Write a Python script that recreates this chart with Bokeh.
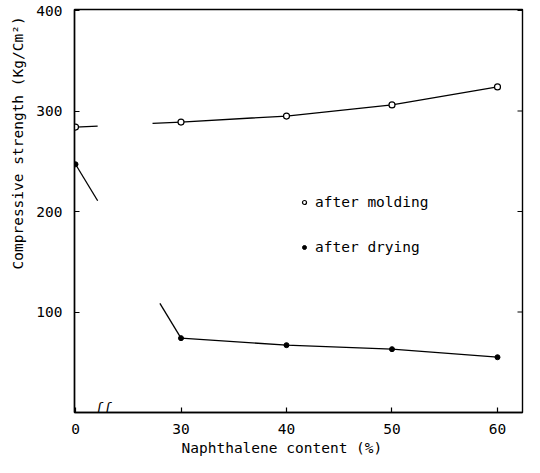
import numpy as np
from bokeh.plotting import figure
from bokeh.models import (Range1d, FixedTicker, Legend, LegendItem, Title, Label)
from bokeh.embed import file_html
from bokeh.resources import INLINE

# ---- data ----
naphthalene = [0, 30, 40, 50, 60]          # %
after_molding = [284, 289, 295, 306, 324]  # kg/cm2
after_drying = [247, 74, 67, 63, 55]       # kg/cm2
x_tick_values = [0, 30, 40, 50, 60]
y_tick_values = [100, 200, 300, 400]
break_at = 8                                # % where the axis-break mark sits


def brk(x):
    """Broken x axis: the 0-30 % interval is drawn compressed (3:1)."""
    x = np.asarray(x, dtype=float)
    return np.where(x < 30, x / 3.0, x - 20.0)


FONT = "DejaVu Sans Mono"
px = brk(naphthalene)
x_ticks = [int(v) for v in brk(x_tick_values)]

X0, X1 = -0.095, 42.37
Y0, Y1 = 0, 401
p = figure(width=524, height=457, output_backend="svg", toolbar_location=None,
           x_range=Range1d(X0, X1), y_range=Range1d(Y0, Y1),
           min_border_left=73, min_border_right=2, min_border_top=9,
           min_border_bottom=45)
p.background_fill_color = "white"
p.border_fill_color = "white"
p.outline_line_color = "black"
p.outline_line_width = 1.4
p.grid.visible = False

# x axis
xa = p.xaxis[0]
xa.ticker = FixedTicker(ticks=x_ticks)
xa.major_label_overrides = {t: str(v) for t, v in zip(x_ticks, x_tick_values)}
# y axis
ya = p.yaxis[0]
ya.ticker = FixedTicker(ticks=y_tick_values)

for ax in (xa, ya):
    ax.axis_line_width = 1.4
    ax.axis_line_color = "black"
    ax.major_tick_in = 5
    ax.major_tick_out = 0
    ax.major_tick_line_width = 1.2
    ax.minor_tick_in = 0
    ax.minor_tick_out = 0
    ax.major_label_text_font = FONT
    ax.major_label_text_font_size = "14.5px"
    ax.major_label_text_color = "black"
xa.major_label_standoff = 11
ya.major_label_standoff = 12

# small inward ticks on the right border
tick_len = (X1 - X0) * 5 / 448
p.segment(x0=[X1] * len(y_tick_values), y0=y_tick_values,
          x1=[X1 - tick_len] * len(y_tick_values), y1=y_tick_values,
          line_color="black", line_width=1.2)

# axis titles placed like the original (off-centre)
ytitle = Title(text="Compressive strength (Kg/Cm\u00b2)", align="left", offset=143,
               standoff=15, text_font=FONT, text_font_size="14.5px",
               text_font_style="normal", text_color="black")
p.add_layout(ytitle, "left")
xtitle = Title(text="Naphthalene content (%)", align="left", offset=107,
               standoff=2, text_font=FONT, text_font_size="14.5px",
               text_font_style="normal", text_color="black")
p.add_layout(xtitle, "below")

# lines 30..60
p.line(px[1:], after_molding[1:], line_color="black", line_width=1.3)
p.line(px[1:], after_drying[1:], line_color="black", line_width=1.3)


# interrupted connectors across the axis break (0 -> 30)
def pieces(y, parts):
    xs, ys = [], []
    for t0, t1 in parts:
        xs.append([px[0] + (px[1] - px[0]) * t0, px[0] + (px[1] - px[0]) * t1])
        ys.append([y[0] + (y[1] - y[0]) * t0, y[0] + (y[1] - y[0]) * t1])
    return xs, ys


mx, my = pieces(after_molding, [(0.0, 0.21), (0.73, 1.0)])
dx, dy = pieces(after_drying, [(0.0, 0.21), (0.8, 1.0)])
p.multi_line(mx + dx, my + dy, line_color="black", line_width=1.3)

mold_r = p.scatter(px, after_molding, marker="circle", size=6,
                   fill_color="white", line_color="black", line_width=1.2)
dry_r = p.scatter(px, after_drying, marker="circle", size=5,
                  fill_color="black", line_color="black")

# axis break mark
p.add_layout(Label(x=float(brk(break_at)), y=0, y_offset=5, text="\u0283\u0283",
                   text_font=FONT, text_font_style="italic",
                   text_font_size="14px", text_align="center",
                   text_baseline="middle", text_color="black",
                   level="overlay"))

legend = Legend(items=[LegendItem(label="after molding", renderers=[mold_r]),
                       LegendItem(label="after drying", renderers=[dry_r])],
                location=(225, 155), orientation="vertical",
                glyph_width=10, glyph_height=20, label_height=20, spacing=25,
                label_standoff=6, padding=0, margin=0,
                border_line_alpha=0, background_fill_alpha=0,
                label_text_font=FONT, label_text_font_size="14.5px",
                label_text_color="black")
p.add_layout(legend, "center")

open("out.html", "w").write(file_html(p, INLINE))
